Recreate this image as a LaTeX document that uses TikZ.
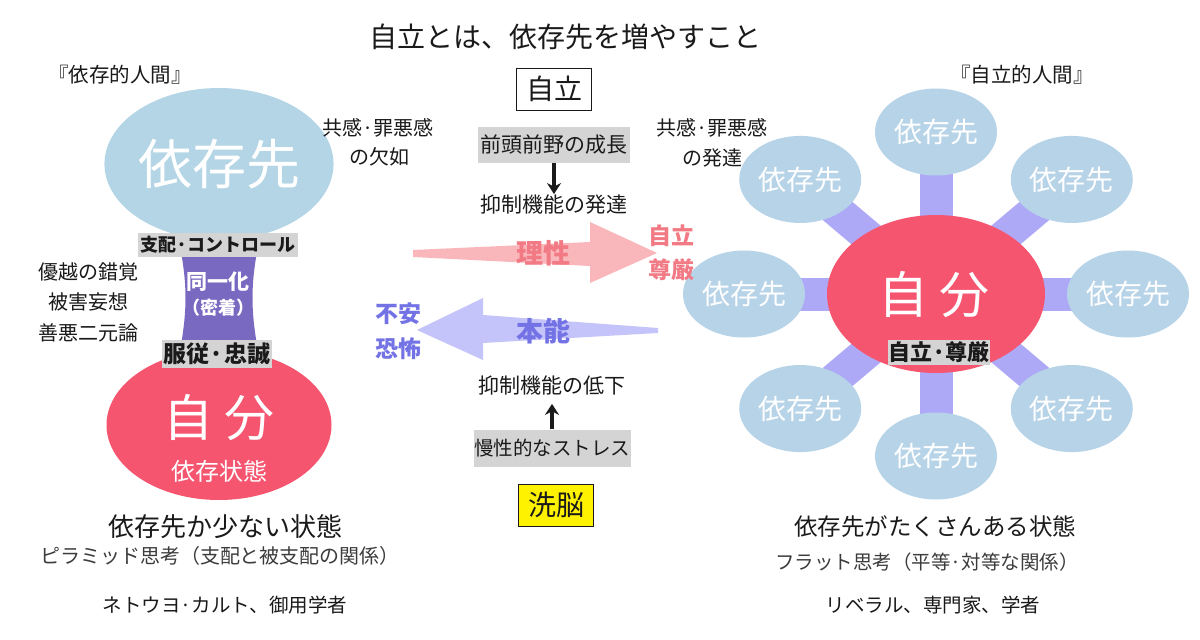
\documentclass[tikz,border=0pt]{standalone}
\usepackage{fontspec}
\setmainfont{Noto Sans CJK JP}
\usetikzlibrary{shapes.geometric, arrows.meta, backgrounds}

\definecolor{sky}{HTML}{B3D5E6}
\definecolor{skyR}{HTML}{B6D3E8}
\definecolor{rose}{HTML}{F5556F}
\definecolor{grape}{HTML}{7A69C1}
\definecolor{lilac}{HTML}{AEA9F7}
\definecolor{tagbg}{HTML}{D4D4D4}
\definecolor{peach}{HTML}{F9B6BB}
\definecolor{peachtxt}{HTML}{F27A85}
\definecolor{mauve}{HTML}{C5C4FA}
\definecolor{mauvetxt}{HTML}{7373E6}
\definecolor{ink}{HTML}{1A1A1A}

\newcommand{\fs}[1]{\fontsize{#1}{#1}\selectfont}

\begin{document}
\begin{tikzpicture}[x=1pt, y=-1pt,
  blob/.style={ellipse, inner sep=0pt, text=white},
  sat/.style={blob, fill=skyR, minimum width=122pt, minimum height=87pt, font=\fs{28}},
  spoke/.style={lilac, line width=33pt},
  tag/.style={fill=tagbg, inner sep=0pt, text=ink},
  txt/.style={inner sep=1pt, text=ink},
  boxed/.style={draw=ink, line width=0.8pt, minimum width=75pt, minimum height=42pt, inner sep=0pt, font=\fs{28}, text=ink},
  upar/.style={ink, line width=3.6pt, -{Stealth[length=11pt,width=14pt]}},
  ]
  \useasboundingbox (0,0) rectangle (1200,640);

  % title
  \node[txt, font=\fs{28}] (title) at (565,37) {自立とは、依存先を増やすこと};

  % left: dependent person
  \node[txt, font=\fs{20.5}] (depHead) at (120,75) {『依存的人間』};
  \node[blob, fill=sky, minimum width=225pt, minimum height=152pt, font=\fs{54}] (hubL) at (219,164) {依存先};
  \node[blob, fill=rose, minimum width=225pt, minimum height=150pt] (selfL) at (219,425) {};
  \node[txt, text=white, font=\fs{50}] (selfLtxt) at (219,418) {自 分};
  \node[txt, text=white, font=\fs{24}] (stateL) at (219,471) {依存状態};
  \fill[grape] (181,252) .. controls (187,285) and (187,310) .. (181,345)
    -- (257,345) .. controls (251,310) and (251,285) .. (257,252) -- cycle;
  \node[tag, minimum width=160pt, minimum height=24pt, font=\bfseries\fs{18}] (ctrl) at (218,245) {支配·コントロール};
  \node[txt, text=white, font=\bfseries\fs{21}] (ident) at (218,282) {同一化};
  \node[txt, text=white, font=\bfseries\fs{18}] (clingy) at (218,308) {（密着）};
  \node[tag, minimum width=110pt, minimum height=28pt, font=\bfseries\fs{23}] (obey) at (217,354) {服従·忠誠};

  \node[txt, font=\fs{20}] (illusion) at (88,272) {優越の錯覚};
  \node[txt, font=\fs{20}] (paranoia) at (88,302) {被害妄想};
  \node[txt, font=\fs{20}] (dualism) at (88,333) {善悪二元論};
  \node[txt, font=\fs{20}] (lackA) at (378,128) {共感·罪悪感};
  \node[txt, font=\fs{20}] (lackB) at (379,157) {の欠如};

  \node[txt, font=\fs{26}] (fewDeps) at (225,527) {依存先か少ない状態};
  \node[txt, text=ink!85, font=\fs{20}] (pyramid) at (220,556) {ピラミッド思考（支配と被支配の関係）};
  \node[txt, font=\fs{19.5}] (cult) at (225,605) {ネトウヨ·カルト、御用学者};

  % centre column
  \node[boxed] (indep) at (554,89) {自立};
  \node[tag, minimum width=152pt, minimum height=36pt, font=\fs{21}] (pfc) at (554,145) {前頭前野の成長};
  \node[txt, font=\fs{21}] (inhibUp) at (554,205) {抑制機能の発達};
  \draw[upar] (pfc) -- (inhibUp);

  \node[txt, font=\fs{21}] (inhibDown) at (552,386) {抑制機能の低下};
  \node[tag, minimum width=157pt, minimum height=37pt, font=\fs{19.5}] (stress) at (552,448) {慢性的なストレス};
  \draw[upar, shorten >=7pt] (stress) -- (inhibDown);
  \node[boxed, fill=yellow] (brainwash) at (556,505) {洗脳};

  % right: independent person
  \node[txt, font=\fs{20.5}] (indHead) at (1022,75) {『自立的人間』};
  \node[txt, font=\fs{20}] (empA) at (712,128) {共感·罪悪感};
  \node[txt, font=\fs{20}] (empB) at (712,158) {の発達};
  \node[blob, fill=rose, minimum width=218pt, minimum height=158pt] (selfR) at (936,294) {};
  \foreach \a [count=\i] in {0,45,...,315}
    \path (936,294) ++(\a:192 and 162) node[sat] (dep\i) {依存先};
  \begin{scope}[on background layer]
    \fill[white] (0,0) rectangle (1200,640);
    \foreach \i in {1,...,8}
      \draw[spoke] (selfR.center) -- (dep\i.center);
  \end{scope}
  \node[txt, text=white, font=\fs{50}] (selfRtxt) at (934,295) {自 分};
  \node[tag, minimum width=98pt, minimum height=25pt, font=\bfseries\fs{22}] (dignity) at (939,352) {自立·尊厳};

  \node[txt, font=\fs{23.5}] (manyDeps) at (935,527) {依存先がたくさんある状態};
  \node[txt, text=ink!85, font=\fs{19.5}] (flat) at (927,562) {フラット思考（平等·対等な関係）};
  \node[txt, font=\fs{19.5}] (liberal) at (933,605) {リベラル、専門家、学者};

  % big arrows
  \fill[peach] (413,250) -- (590,242) -- (590,222) -- (657,253) -- (590,283) -- (590,266) -- (413,257) -- cycle;
  \node[txt, text=peachtxt, font=\bfseries\fs{27}] (reason) at (543,253) {理性};
  \node[txt, text=peachtxt, font=\bfseries\fs{23}] (dignA) at (671,236) {自立};
  \node[txt, text=peachtxt, font=\bfseries\fs{23}] (dignB) at (671,270) {尊厳};
  \fill[mauve] (658,328) -- (483,315) -- (483,298) -- (417,330) -- (483,360) -- (483,343) -- (658,333) -- cycle;
  \node[txt, text=mauvetxt, font=\bfseries\fs{27}] (instinct) at (543,331) {本能};
  \node[txt, text=mauvetxt, font=\bfseries\fs{23}] (fearA) at (398,314) {不安};
  \node[txt, text=mauvetxt, font=\bfseries\fs{23}] (fearB) at (398,349) {恐怖};
\end{tikzpicture}
\end{document}
